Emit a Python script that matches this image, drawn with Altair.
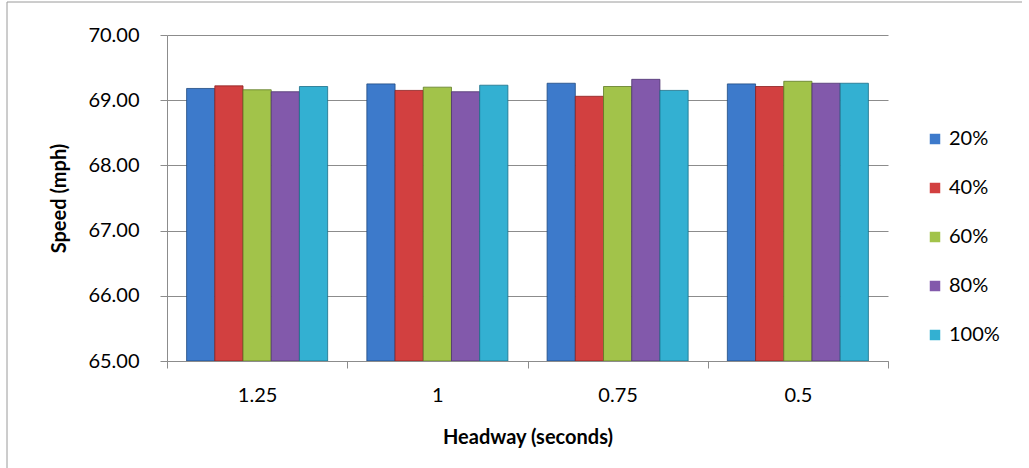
import altair as alt
import pandas as pd

headways = ["1.25", "1", "0.75", "0.5"]
series = ["20%", "40%", "60%", "80%", "100%"]
v20 = [69.18, 69.25, 69.26, 69.25]
v40 = [69.22, 69.15, 69.06, 69.21]
v60 = [69.16, 69.20, 69.21, 69.29]
v80 = [69.13, 69.13, 69.32, 69.26]
v100 = [69.21, 69.23, 69.15, 69.26]

colors = ["#3D7ACB", "#D24040", "#A2C34A", "#8259AB", "#33B0D2"]
edges = ["#1F4A80", "#8A2020", "#5E7A25", "#4E3470", "#1B6F88"]

rows = []
for s, vals in zip(series, [v20, v40, v60, v80, v100]):
    for h, v in zip(headways, vals):
        rows.append({"headway": h, "series": s, "speed": v})
df = pd.DataFrame(rows)

FONT = "Lato"
FS = 20
W, H = 721, 326

bars = alt.Chart(df).mark_bar(strokeWidth=0.8, clip=True).encode(
    x=alt.X("headway:N", sort=headways,
            scale=alt.Scale(paddingInner=0, paddingOuter=0),
            axis=alt.Axis(title="Headway (seconds)", labelAngle=0, tickBand="extent",
                          domainColor="#8c8c8c", tickColor="#8c8c8c", tickSize=7,
                          labelFontSize=FS, labelPadding=17, labelColor="#000",
                          titleFontSize=FS, titleFontWeight="bold", titlePadding=22,
                          titleColor="#000", grid=False)),
    xOffset=alt.XOffset("series:N", sort=series,
                        scale=alt.Scale(paddingInner=0, paddingOuter=0.695)),
    y=alt.Y("speed:Q", scale=alt.Scale(domain=[65, 70], zero=False, nice=False),
            axis=alt.Axis(title="Speed (mph)", values=[65, 66, 67, 68, 69, 70], format=".2f",
                          domainColor="#8c8c8c", tickColor="#8c8c8c", tickSize=7,
                          gridColor="#8c8c8c", gridWidth=1,
                          labelFontSize=FS, labelPadding=21, labelColor="#000",
                          titleFontSize=FS, titleFontWeight="bold", titlePadding=18,
                          titleColor="#000")),
    y2=alt.Y2(datum=65),
    color=alt.Color("series:N", sort=series, scale=alt.Scale(domain=series, range=colors),
                    legend=alt.Legend(title=None, orient="none", legendX=758, legendY=94,
                                      symbolType="square", symbolSize=110, symbolStrokeWidth=0,
                                      labelFontSize=FS, labelColor="#000", rowPadding=29,
                                      labelOffset=4)),
    stroke=alt.Stroke("series:N", sort=series, scale=alt.Scale(domain=series, range=edges),
                      legend=None),
)

lines = pd.DataFrame({"a": [0]})
left_line = alt.Chart(lines).mark_rule(stroke="#9a9a9a", strokeWidth=1, clip=False).encode(
    x=alt.value(-160), y=alt.value(-33), y2=alt.value(433))
top_line = alt.Chart(lines).mark_rule(stroke="#9a9a9a", strokeWidth=1, clip=False).encode(
    x=alt.value(-160), x2=alt.value(855), y=alt.value(-33))

chart = alt.layer(left_line, top_line, bars).properties(
    width=W, height=H,
    autosize=alt.AutoSizeParams(type="none"),
    padding={"left": 167, "top": 35, "right": 141, "bottom": 107},
).configure(font=FONT).configure_view(stroke=None)

chart.save("out.html", embed_options={"renderer": "svg", "actions": False})
